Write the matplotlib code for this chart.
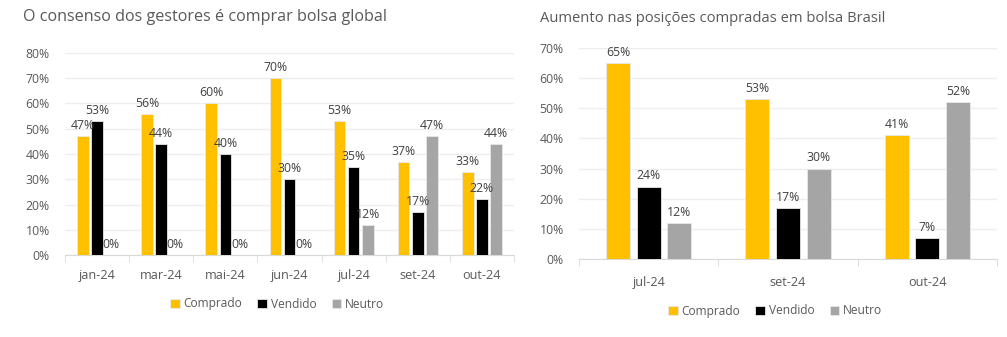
import matplotlib.pyplot as plt
import numpy as np

plt.rcParams['font.family'] = ['Open Sans', 'DejaVu Sans']

# left chart: global
global_months = ['jan-24', 'mar-24', 'mai-24', 'jun-24', 'jul-24', 'set-24', 'out-24']
global_comprado = [47, 56, 60, 70, 53, 37, 33]
global_vendido = [53, 44, 40, 30, 35, 17, 22]
global_neutro = [0, 0, 0, 0, 12, 47, 44]

# right chart: Brasil
br_months = ['jul-24', 'set-24', 'out-24']
br_comprado = [65, 53, 41]
br_vendido = [24, 17, 7]
br_neutro = [12, 30, 52]

series_names = ['Comprado', 'Vendido', 'Neutro']
colors = ['#FFC000', '#000000', '#A5A5A5']
txt = '#595959'


def draw(ax, months, series, ymax, width, step, fs, xpad):
    x = np.arange(len(months))
    for i, (vals, c, name) in enumerate(zip(series, colors, series_names)):
        pos = x + (i - 1) * step
        bars = ax.bar(pos, vals, width, color=c, label=name,
                      edgecolor='#e8e8e8', linewidth=0.6, zorder=3)
        for b, v in zip(bars, vals):
            ax.text(b.get_x() + b.get_width() / 2, v + ymax * 0.02, f'{v}%',
                    ha='center', va='bottom', fontsize=fs, color='#404040', zorder=4)
    ax.set_xlim(-0.5, len(months) - 0.5)
    ax.set_ylim(0, ymax)
    ax.set_yticks(range(0, ymax + 1, 10))
    ax.set_yticklabels([f'{t}%' for t in range(0, ymax + 1, 10)])
    ax.yaxis.grid(True, color='#eeeeee', linewidth=1, zorder=0)
    ax.set_xticks(x)
    ax.set_xticklabels(months)
    ax.set_xticks(np.arange(len(months) + 1) - 0.5, minor=True)
    ax.tick_params(axis='x', which='major', length=0, pad=xpad, labelsize=fs + 0.3, colors=txt)
    ax.tick_params(axis='x', which='minor', length=5, color='#d9d9d9')
    ax.tick_params(axis='y', length=0, labelsize=fs, colors=txt, pad=11)
    for s in ['top', 'right', 'left']:
        ax.spines[s].set_visible(False)
    ax.spines['bottom'].set_color('#d9d9d9')


fig = plt.figure(figsize=(10.07, 3.37), dpi=100)

ax1 = fig.add_axes([65 / 1007, 1 - 255 / 337, (514 - 65) / 1007, (255 - 53) / 337])
draw(ax1, global_months, [global_comprado, global_vendido, global_neutro], 80, 0.18, 0.22, 8.8, 10)
fig.text(23 / 1007, 1 - 17 / 337, 'O consenso dos gestores é comprar bolsa global',
         fontsize=11.6, color=txt, va='center', ha='left')
ax1.legend(loc='center', bbox_to_anchor=(277 / 1007, 1 - 304 / 337),
           bbox_transform=fig.transFigure, ncol=3, frameon=False, fontsize=8.6,
           handlelength=0.8, handleheight=0.8, handletextpad=0.3, columnspacing=1.3,
           labelcolor=txt)

ax2 = fig.add_axes([579 / 1007, 1 - 259 / 337, (997 - 579) / 1007, (259 - 48) / 337])
draw(ax2, br_months, [br_comprado, br_vendido, br_neutro], 70, 0.173, 0.22, 8.8, 12)
fig.text(540 / 1007, 1 - 19 / 337, 'Aumento nas posições compradas em bolsa Brasil',
         fontsize=10.6, color=txt, va='center', ha='left')
ax2.legend(loc='center', bbox_to_anchor=(775 / 1007, 1 - 311 / 337),
           bbox_transform=fig.transFigure, ncol=3, frameon=False, fontsize=8.6,
           handlelength=0.8, handleheight=0.8, handletextpad=0.3, columnspacing=1.3,
           labelcolor=txt)

fig.savefig('out.png', dpi=100)
